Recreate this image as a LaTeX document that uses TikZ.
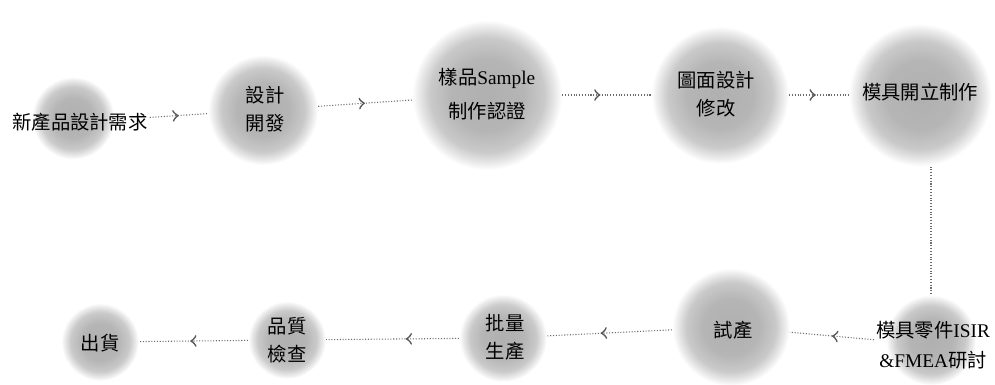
\documentclass[tikz,border=0pt]{standalone}
\usepackage{fontspec}
\setmainfont{Liberation Serif}
\newfontfamily\cjk{Noto Sans CJK TC}
\usepackage{tikz}
\usetikzlibrary{decorations.markings}

\pgfdeclareradialshading{softdisc}{\pgfpoint{0cm}{0cm}}{color(0bp)=(gray!62); color(12bp)=(gray!58); color(19bp)=(gray!42); color(23bp)=(gray!15); color(25bp)=(white); color(50bp)=(white)}

\tikzset{
	bubble/.style={circle, draw=none, shading=softdisc, minimum size=#1},
	steptext/.style={align=center, inner sep=1pt, font=\fontsize{11}{16}\selectfont\cjk},
	link/.style={gray!85!black, densely dotted, line width=0.6pt},
	flow/.style={link, postaction={decorate},
		decoration={markings, mark=at position #1 with {\arrow[solid, scale=1.6, gray!70!black]{>}}}},
	flow/.default=0.5
}

\begin{document}
\begin{tikzpicture}[x=0.02cm, y=-0.02cm]
				\fill[white] (0,0) rectangle (995,385);
				\useasboundingbox (0,0) rectangle (995,385);
				
				\node[bubble=1.65cm] (c1) at (73,118) {};
				\node[bubble=2.2cm] (c2) at (263,110) {};
				\node[bubble=3cm] (c3) at (487,95) {};
				\node[bubble=2.75cm] (c4) at (720,95) {};
				\node[bubble=2.85cm] (c5) at (920,95) {};
				\node[bubble=1.8cm] (c6) at (931,340) {};
				\node[bubble=2.35cm] (c7) at (731,327) {};
				\node[bubble=1.75cm] (c8) at (503,338) {};
				\node[bubble=1.55cm] (c9) at (287,340) {};
				\node[bubble=1.55cm] (c10) at (100,342) {};
				
				\node[steptext] (t1) at (80,122) {新產品設計需求};
				\node[steptext] (t2) at (265,109) {設計\\開發};
				\node[steptext, font=\fontsize{11}{19}\selectfont\cjk] (t3) at (487,94) {樣品{\rmfamily Sample}\\制作認證};
				\node[steptext] (t4) at (716,94) {圖面設計\\修改};
				\node[steptext] (t5) at (920,92) {模具開立制作};
				\node[steptext, font=\fontsize{11}{17}\selectfont\cjk] (t6) at (933,345) {模具零件{\rmfamily ISIR}\\{\rmfamily \&FMEA}研討};
				\node[steptext] (t7) at (733,330) {試產};
				\node[steptext] (t8) at (505,337) {批量\\生產};
				\node[steptext] (t9) at (287,340) {品質\\檢查};
				\node[steptext] (t10) at (100,343) {出貨};
				
				\draw[flow] (t1) -- (c2);
				\draw[flow] (c2) -- (c3);
				\draw[flow=0.43] (c3) -- (c4);
				\draw[flow=0.45] (c4) -- (c5);
				\draw[link] (c6.north |- c5.south) -- (c6.north);
				\draw[flow] (t6) -- (c7);
				\draw[flow=0.57] (c7) -- (c8);
				\draw[flow=0.4] (c8) -- (c9);
				\draw[flow=0.53] (c9) -- (c10);
			\end{tikzpicture}
\end{document}
